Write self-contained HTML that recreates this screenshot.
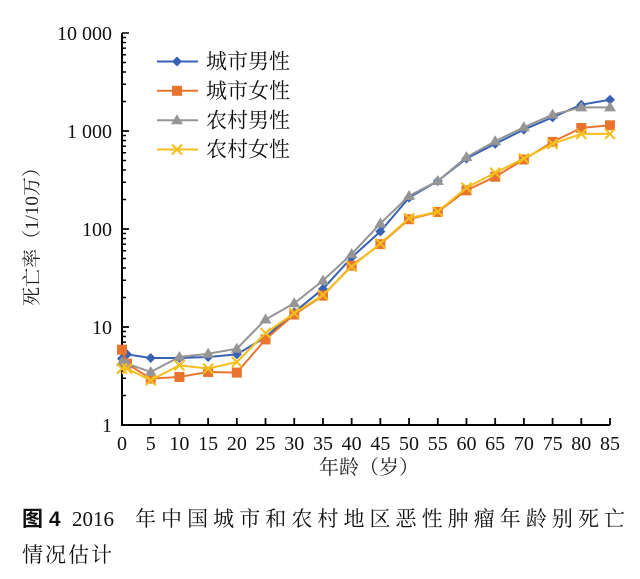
<!DOCTYPE html>
<html><head><meta charset="utf-8"><style>
html,body{margin:0;padding:0;background:#fff;}
svg{display:block;font-family:"Liberation Serif","Noto Serif CJK SC",serif;}
</style></head><body>
<svg id="s" width="640" height="579" viewBox="0 0 640 579" xmlns="http://www.w3.org/2000/svg">
<g id="axes" stroke="#000" stroke-width="2" fill="none">
<path d="M122,33 V425 H610"/>
</g>
<g font-size="20" text-anchor="end" fill="#111">
<text x="112" y="40">10 000</text>
<text x="112" y="138">1 000</text>
<text x="112" y="236">100</text>
<text x="112" y="334">10</text>
<text x="112" y="432">1</text>
</g>
<text transform="translate(38,232) rotate(-90)" font-size="19" text-anchor="middle" fill="#222">死亡率（1/10万）</text>
<g id="xl" font-size="20" text-anchor="middle" fill="#111"></g>
<text x="369" y="474" font-size="20" text-anchor="middle" fill="#222">年龄（岁）</text>
<g id="series"></g>
<g id="legend" font-size="21" fill="#111"></g>
<text x="22" y="526" font-size="21" font-weight="bold" font-family="Liberation Sans,Noto Sans CJK SC,sans-serif" fill="#111">图 4</text>
<text x="72" y="526" font-size="21" fill="#111">2016</text>
<text x="135" y="526" font-size="21" fill="#111" textLength="490" lengthAdjust="spacing">年中国城市和农村地区恶性肿瘤年龄别死亡</text>
<text x="22" y="562" font-size="21" fill="#111" textLength="90" lengthAdjust="spacing">情况估计</text>
</svg>
<script>
var NS="http://www.w3.org/2000/svg",s=document.getElementById('s');
function el(t,a,p){var e=document.createElementNS(NS,t);for(var k in a)e.setAttribute(k,a[k]);(p||s).appendChild(e);return e;}
var ax=document.getElementById('axes');
function Y(v){return 425-98*Math.log10(v);}
for(var d=0;d<4;d++)for(var m=1;m<=10;m++){var y=Y(Math.pow(10,d)*m);el('line',{x1:122,x2:122+(m==1||m==10?7:4),y1:y,y2:y,'stroke-width':1.5},ax);}
function X(a){return 122+a*488/85;}
var xl=document.getElementById('xl');
for(var a=0;a<=85;a+=5){el('line',{x1:X(a),x2:X(a),y1:425,y2:418,'stroke-width':1.8},ax);var t=el('text',{x:X(a),y:450},xl);t.textContent=a;}
var ages=[0,1,5,10,15,20,25,30,35,40,45,50,55,60,65,70,75,80,85];
var data=[
{c:'#3a62b4',m:'d',z:[1015,1002,1013,1013,1010,1002,950,875,805,710,632,530,480,412,368,325,288,250,235]},
{c:'#e8742f',m:'s',z:[988,1030,1075,1070,1055,1057,957,882,825,735,670,595,573,508,467,415,362,320,312]},
{c:'#959595',m:'t',z:[1025,1030,1055,1010,1000,985,897,848,780,700,608,525,480,408,360,318,280,258,258]},
{c:'#f4be1c',m:'x',z:[1045,1045,1080,1035,1045,1025,938,878,823,738,668,592,572,500,455,412,368,338,338]}];
var g=document.getElementById('series');
function mk(t,x,y,c,p){
if(t=='d')el('path',{d:'M'+x+','+(y-5)+'l5,5l-5,5l-5,-5z',fill:c},p);
else if(t=='s')el('rect',{x:x-5,y:y-5,width:10,height:10,fill:c},p);
else if(t=='t')el('path',{d:'M'+x+','+(y-6)+'l6,10h-12z',fill:c},p);
else el('path',{d:'M'+(x-5)+','+(y-5)+'l10,10M'+(x+5)+','+(y-5)+'l-10,10',stroke:c,'stroke-width':2},p);}
var names=['城市男性','城市女性','农村男性','农村女性'],ly=[61.5,90.8,120.3,149.5];
var lg=document.getElementById('legend');
data.forEach(function(sr,i){
var pts=ages.map(function(a,j){return [a==1?127:X(a),21.7+sr.z[j]*0.332];});
el('polyline',{points:pts.map(function(p){return p.join(',')}).join(' '),fill:'none',stroke:sr.c,'stroke-width':2},g);
pts.forEach(function(p){mk(sr.m,p[0],p[1],sr.c,g);});
el('line',{x1:157,x2:198,y1:ly[i],y2:ly[i],stroke:sr.c,'stroke-width':2},lg);
mk(sr.m,177,ly[i],sr.c,lg);
var t=el('text',{x:206,y:ly[i]+7,textLength:84,lengthAdjust:'spacing'},lg);t.textContent=names[i];
});
</script>
</body></html>
